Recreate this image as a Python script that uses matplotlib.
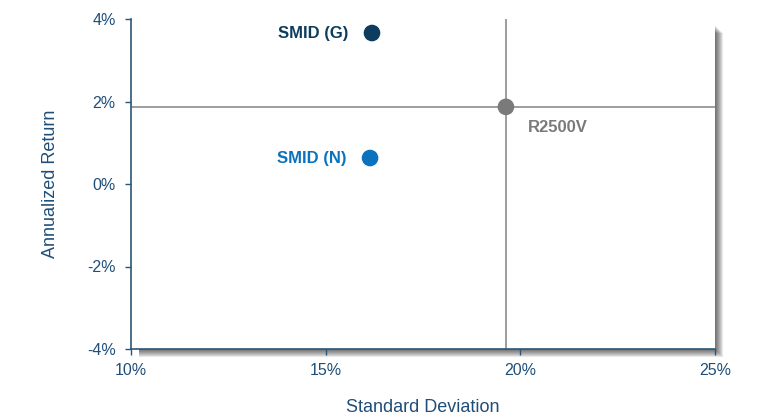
import matplotlib.pyplot as plt
from matplotlib.patches import Rectangle
from matplotlib.ticker import FuncFormatter

plt.rcParams['font.family'] = ['Liberation Sans', 'DejaVu Sans']

names = ['SMID (G)', 'SMID (N)', 'R2500V']
std_dev = [16.19, 16.14, 19.63]
ann_ret = [3.66, 0.63, 1.87]
colors = ['#0D3D5E', '#0B72BE', '#7A7A7A']
x_ticks = [10, 15, 20, 25]
y_ticks = [-4, -2, 0, 2, 4]

axis_col = '#2B5676'
text_col = '#1F4E79'

fig = plt.figure(figsize=(7.65, 4.17), dpi=100)
left, bottom, w, h = 131 / 765, 1 - 349 / 417, (715 - 131) / 765, (349 - 19) / 417

# soft shadow on right and bottom of plot area
for i in range(8):
    dx = (i + 1) / 765
    dy = (i + 1) / 417
    fig.patches.append(Rectangle((left + 8 / 765, bottom - dy), w - 8 / 765 + dx, h - 6 / 417,
                                 transform=fig.transFigure, facecolor='#000000',
                                 alpha=0.09, edgecolor='none', zorder=0))

ax = fig.add_axes([left, bottom, w, h])
ax.set_facecolor('white')
ax.set_zorder(1)

ax.set_xlim(10, 25)
ax.set_ylim(-4, 4)
ax.set_xticks(x_ticks)
ax.set_yticks(y_ticks)
ax.xaxis.set_major_formatter(FuncFormatter(lambda v, p: f'{v:.0f}%'))
ax.yaxis.set_major_formatter(FuncFormatter(lambda v, p: f'{v:.0f}%'))
ax.tick_params(colors=axis_col, labelcolor=text_col, labelsize=11.5, length=4, width=1)
ax.tick_params(axis='y', pad=7)
ax.tick_params(axis='x', pad=6)

for s in ['top', 'right']:
    ax.spines[s].set_visible(False)
for s in ['left', 'bottom']:
    ax.spines[s].set_color(axis_col)
    ax.spines[s].set_linewidth(1.2)

# crosshair through benchmark
ax.axvline(std_dev[2], color='#8C8C8C', lw=1.2, zorder=1)
ax.axhline(ann_ret[2], color='#8C8C8C', lw=1.2, zorder=1)

ax.scatter(std_dev, ann_ret, s=120, c=colors, zorder=3)

offsets = [(-17, 0), (-17, 0), (16, -15)]
aligns = ['right', 'right', 'left']
for n, x, y, c, off, ha in zip(names, std_dev, ann_ret, colors, offsets, aligns):
    ax.annotate(n, (x, y), xytext=off, textcoords='offset points', ha=ha, va='center',
                color=c, fontsize=12, fontweight='bold')

ax.set_xlabel('Standard Deviation', color=text_col, fontsize=13, labelpad=15)
ax.set_ylabel('Annualized Return', color=text_col, fontsize=13, labelpad=20)

fig.savefig('out.png', dpi=100)
